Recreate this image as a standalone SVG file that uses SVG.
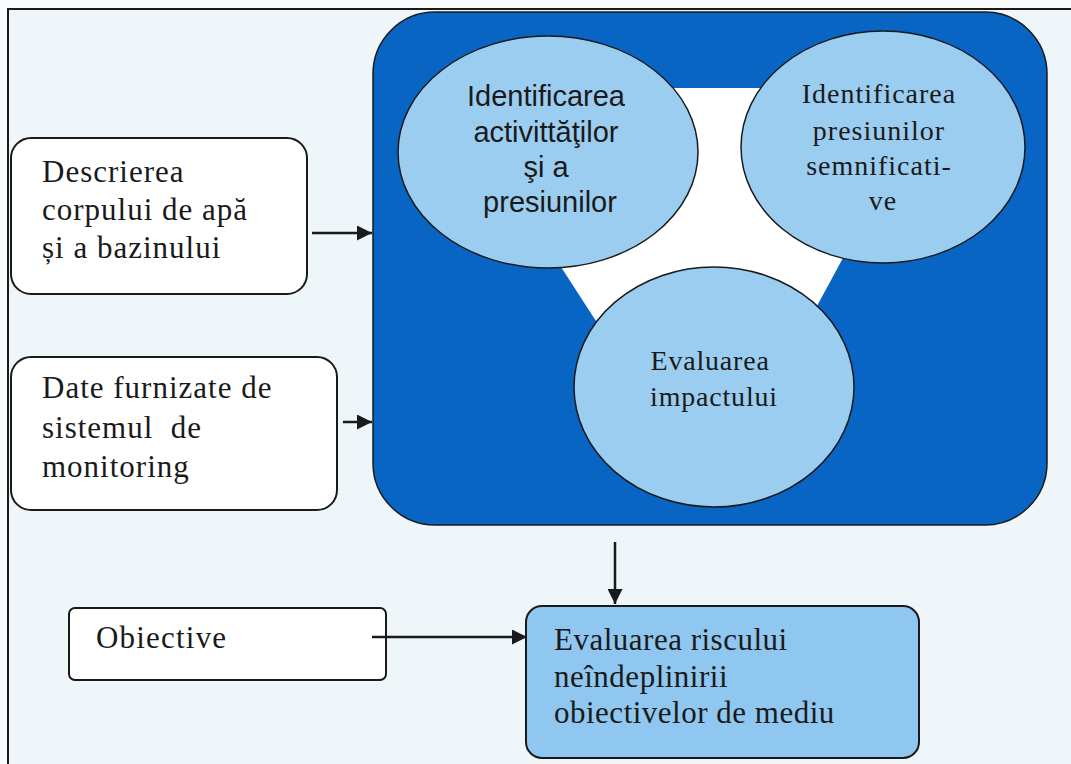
<svg xmlns="http://www.w3.org/2000/svg" width="1071" height="764" viewBox="0 0 1071 764">
<defs>
<style>
.frame{fill:none;stroke:#1a1a1a;stroke-width:2}
.box{fill:#ffffff;stroke:#1a1a1a;stroke-width:2}
.bluebox{fill:#8fc7f0;stroke:#1a1a1a;stroke-width:2}
.big{fill:#0865c4;stroke:#1a1a1a;stroke-width:1.5}
.circ{fill:#9bcdf1;stroke:#1a1a1a;stroke-width:1.5}
.serif{font-family:"Liberation Serif","Times New Roman",serif;fill:#1a1a1a}
.sans{font-family:"Liberation Sans",Arial,sans-serif;fill:#1a1a1a}
.conn{stroke:#1a1a1a;stroke-width:2.5;fill:none;marker-end:url(#ah)}
</style>
<marker id="ah" viewBox="0 0 10 10" refX="10" refY="5" markerWidth="6" markerHeight="6" markerUnits="strokeWidth" orient="auto">
<path d="M0,0 L10,5 L0,10 z" fill="#1a1a1a"/>
</marker>
</defs>
<rect x="0" y="0" width="1071" height="764" fill="#f8fbfc"/>
<rect x="8" y="9" width="1063" height="755" fill="#eef6f9"/>
<path class="frame" d="M8,764 L8,9 L1071,9"/>

<g id="process">
<rect class="big" x="373" y="12" width="674" height="513" rx="62" ry="62"/>
<polygon points="445,88 935,88 712,500" fill="#ffffff"/>
</g>

<g id="c1">
<ellipse class="circ" cx="548" cy="152" rx="150" ry="116"/>
<text class="sans" font-size="29" text-anchor="middle">
<tspan x="550" y="106">Identificarea</tspan>
<tspan x="550" y="142">activittăţilor</tspan>
<tspan x="550" y="177">şi a</tspan>
<tspan x="550" y="212">presiunilor</tspan>
</text>
</g>

<g id="c2">
<ellipse class="circ" cx="883" cy="147" rx="142" ry="116"/>
<text class="serif" font-size="28" letter-spacing="1" text-anchor="middle">
<tspan x="883" y="103">Identificarea</tspan>
<tspan x="883" y="140">presiunilor</tspan>
<tspan x="883" y="175">semnificati-</tspan>
<tspan x="883" y="210">ve</tspan>
</text>
</g>

<g id="c3">
<ellipse class="circ" cx="714" cy="387" rx="140" ry="120"/>
<text class="serif" font-size="28" letter-spacing="0.8" text-anchor="middle">
<tspan x="714" y="370">Evaluarea</tspan>
<tspan x="714" y="406">impactului</tspan>
</text>
</g>

<g id="n1">
<rect class="box" x="11" y="138" width="296" height="156" rx="20" ry="20"/>
<text class="serif" font-size="31" letter-spacing="1">
<tspan x="42" y="182">Descrierea</tspan>
<tspan x="42" y="220">corpului de apă</tspan>
<tspan x="42" y="258">și a bazinului</tspan>
</text>
</g>

<g id="n2">
<rect class="box" x="11" y="357" width="326" height="153" rx="20" ry="20"/>
<text class="serif" font-size="31" letter-spacing="1">
<tspan x="42" y="398">Date furnizate de</tspan>
<tspan x="42" y="438" xml:space="preserve">sistemul  de</tspan>
<tspan x="42" y="477">monitoring</tspan>
</text>
</g>

<g id="n3">
<rect class="box" x="69" y="608" width="317" height="72" rx="6" ry="6"/>
<text class="serif" font-size="31" letter-spacing="1.2" x="96" y="648">Obiective</text>
</g>

<g id="n4">
<rect class="bluebox" x="526" y="606" width="393" height="152" rx="16" ry="16"/>
<text class="serif" font-size="31" letter-spacing="0.5">
<tspan x="554" y="650">Evaluarea riscului</tspan>
<tspan x="554" y="687">neîndeplinirii</tspan>
<tspan x="554" y="723">obiectivelor de mediu</tspan>
</text>
</g>

<g id="connectors">
<line class="conn" x1="312" y1="233" x2="372" y2="233"/>
<line class="conn" x1="343" y1="422" x2="372" y2="422"/>
<line class="conn" x1="615" y1="542" x2="615" y2="604"/>
<line class="conn" x1="372" y1="637" x2="527" y2="637"/>
</g>
</svg>
